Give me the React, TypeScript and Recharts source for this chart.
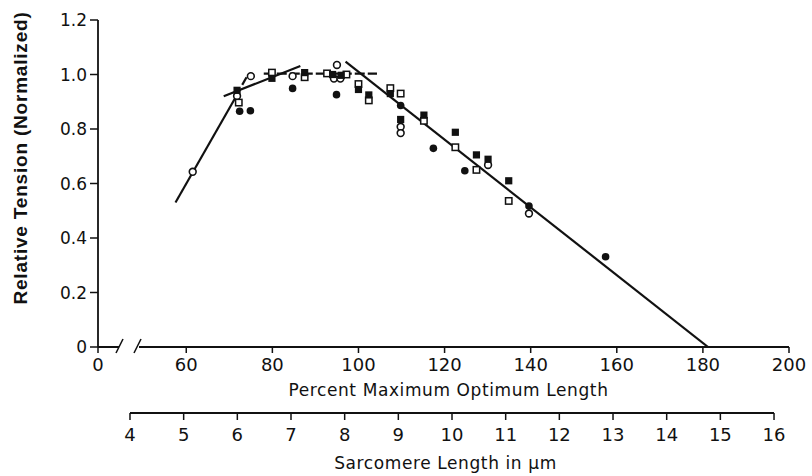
import React from 'react';
import { ComposedChart, XAxis, YAxis, Scatter, Line } from 'recharts';

const INK = '#111';
const TICK_FONT = '"DejaVu Sans", sans-serif';

// the x axis is broken between 0 and 60; the "0" tick sits at this squeezed position
const AXIS_ZERO = 39.5;

const pctTicks = [AXIS_ZERO, 60, 80, 100, 120, 140, 160, 180, 200];
const sarcTicks = [4, 5, 6, 7, 8, 9, 10, 11, 12, 13, 14, 15, 16];
const tensionTicks = [0, 0.2, 0.4, 0.6, 0.8, 1.0, 1.2];
// sarcomere scale lined up under the percent scale (4 um under ~58%, 16 um under ~188%)
const sarcDomain = [3.404, 16.279];

// [percent optimum length, relative tension]
const openCircles = [
  [61.5, 0.643], [71.8, 0.921], [75, 0.994], [84.7, 0.994], [95, 1.035],
  [94.3, 0.985], [95.8, 0.985], [109.8, 0.808], [109.8, 0.785], [130.1, 0.668], [139.6, 0.49],
];
const filledCircles = [
  [72.4, 0.865], [74.9, 0.867], [84.7, 0.949], [94.9, 0.926], [109.8, 0.886],
  [117.4, 0.729], [124.7, 0.647], [139.6, 0.517], [157.4, 0.331],
];
const openSquares = [
  [72.2, 0.897], [79.9, 1.007], [87.5, 0.99], [92.7, 1.004], [97.2, 1.0], [100, 0.965],
  [102.4, 0.905], [107.4, 0.95], [109.8, 0.93], [115.2, 0.83], [122.5, 0.733],
  [127.4, 0.65], [134.9, 0.536],
];
const filledSquares = [
  [71.8, 0.942], [79.9, 0.986], [87.5, 1.007], [94, 1.0], [96, 0.997], [100, 0.945],
  [102.4, 0.925], [107.4, 0.93], [109.8, 0.835], [115.2, 0.851], [122.5, 0.788],
  [127.4, 0.705], [130.1, 0.689], [134.9, 0.61],
];

// fitted segments
const riseLine = [[57.5, 0.53], [72.5, 0.945]];
const riseTip = [[73, 0.962], [74, 0.99]];
const shoulderLine = [[68.7, 0.92], [86.5, 1.031]];
const plateauLine = [[78, 1.003], [104.3, 1.003]];
const descentLine = [[97, 1.047], [181.2, 0]];

const toPts = (arr: number[][]) => arr.map(([x, y]) => ({ x, y }));

const OpenCircle = (p: any) => <circle cx={p.cx} cy={p.cy} r={3.4} fill="#fff" stroke={INK} strokeWidth={1.6} />;
const FilledCircle = (p: any) => <circle cx={p.cx} cy={p.cy} r={3.8} fill={INK} />;
const OpenSquare = (p: any) => (
  <rect x={p.cx - 3.2} y={p.cy - 3.2} width={6.4} height={6.4} fill="#fff" stroke={INK} strokeWidth={1.5} />
);
const FilledSquare = (p: any) => <rect x={p.cx - 3.6} y={p.cy - 3.6} width={7.2} height={7.2} fill={INK} />;
const NoMark = () => <g />;

function PctTick(props: any) {
  const { x, y, payload } = props;
  const isZero = payload.value === AXIS_ZERO;
  const axisY = y - 11;
  return (
    <g>
      <text x={x} y={y} dy="0.71em" textAnchor="middle" fontSize={18} fontFamily={TICK_FONT} fill={INK}>
        {isZero ? '0' : payload.value}
      </text>
      {isZero && (
        <g stroke={INK} strokeWidth={1.6}>
          <line x1={x + 18} y1={axisY + 6} x2={x + 25} y2={axisY - 8} />
          <line x1={x + 36} y1={axisY + 6} x2={x + 43} y2={axisY - 8} />
        </g>
      )}
    </g>
  );
}

function AxisTitle(props: any) {
  const { viewBox, value, dx = 0, dy = 0 } = props;
  return (
    <text
      x={viewBox.x + viewBox.width / 2 + dx}
      y={viewBox.y + dy}
      textAnchor="middle"
      fontSize={17}
      letterSpacing={0.6}
      fontFamily={TICK_FONT}
      fill={INK}
    >
      {value}
    </text>
  );
}

function YTitle(props: any) {
  const { viewBox } = props;
  const cx = viewBox.x + 20;
  const cy = viewBox.y + 138;
  return (
    <text
      x={cx}
      y={cy}
      transform={`rotate(-90, ${cx}, ${cy})`}
      textAnchor="middle"
      dominantBaseline="central"
      fontSize={19}
      fontWeight="bold"
      letterSpacing={0.8}
      fontFamily='"Liberation Sans", Arial, sans-serif'
      fill={INK}
    >
      Relative Tension (Normalized)
    </text>
  );
}

const lineProps = {
  dataKey: 'y',
  type: 'linear' as const,
  stroke: INK,
  strokeWidth: 2.2,
  dot: false,
  activeDot: false,
  isAnimationActive: false,
  legendType: 'none' as const,
};

export default function App() {
  return (
    <div style={{ position: 'absolute', left: 0, top: 0, width: 812, height: 476, background: '#fff' }}>
      <ComposedChart width={812} height={476} margin={{ top: 20, right: 23, bottom: 0, left: 0 }}>
        <XAxis
          dataKey="x"
          type="number"
          domain={[AXIS_ZERO, 200]}
          allowDataOverflow
          ticks={pctTicks}
          interval={0}
          height={66}
          tickSize={6}
          tickMargin={5}
          stroke={INK}
          axisLine={{ stroke: INK, strokeWidth: 1.8, strokeDasharray: '21 20 2000' }}
          tickLine={{ stroke: INK, strokeWidth: 1.5 }}
          tick={<PctTick />}
          label={<AxisTitle value="Percent Maximum Optimum Length" dy={49} dx={5} />}
        />
        <XAxis
          xAxisId="sarc"
          dataKey="x"
          type="number"
          domain={sarcDomain}
          allowDataOverflow
          ticks={sarcTicks}
          interval={0}
          height={63}
          tickSize={7}
          tickMargin={8}
          stroke={INK}
          axisLine={{ stroke: INK, strokeWidth: 1.8, strokeDasharray: '0 32 644 2000' }}
          tickLine={{ stroke: INK, strokeWidth: 1.5 }}
          tick={{ fontSize: 18, fontFamily: TICK_FONT, fill: INK }}
          label={<AxisTitle value="Sarcomere Length in μm" dy={56} dx={2} />}
        />
        <YAxis
          dataKey="y"
          type="number"
          domain={[0, 1.2]}
          allowDataOverflow
          ticks={tensionTicks}
          interval={0}
          width={98}
          tickSize={8}
          tickMargin={3}
          stroke={INK}
          axisLine={{ stroke: INK, strokeWidth: 1.8 }}
          tickLine={{ stroke: INK, strokeWidth: 1.5 }}
          tick={{ fontSize: 17, fontFamily: TICK_FONT, fill: INK }}
          tickFormatter={(v: number) => (v === 0 ? '0' : v.toFixed(1))}
          label={<YTitle />}
        />

        {/* unmarked series so the sarcomere axis has data attached and draws its ticks */}
        <Scatter
          xAxisId="sarc"
          data={sarcTicks.map((s) => ({ x: s, y: 0 }))}
          shape={NoMark}
          legendType="none"
          isAnimationActive={false}
        />

        <Line data={toPts(riseLine)} {...lineProps} />
        <Line data={toPts(riseTip)} {...lineProps} />
        <Line data={toPts(shoulderLine)} {...lineProps} />
        <Line data={toPts(plateauLine)} {...lineProps} strokeDasharray="10 3" />
        <Line data={toPts(descentLine)} {...lineProps} />

        <Scatter name="open circles" data={toPts(openCircles)} shape={OpenCircle} isAnimationActive={false} />
        <Scatter name="filled circles" data={toPts(filledCircles)} shape={FilledCircle} isAnimationActive={false} />
        <Scatter name="open squares" data={toPts(openSquares)} shape={OpenSquare} isAnimationActive={false} />
        <Scatter name="filled squares" data={toPts(filledSquares)} shape={FilledSquare} isAnimationActive={false} />
      </ComposedChart>
    </div>
  );
}
